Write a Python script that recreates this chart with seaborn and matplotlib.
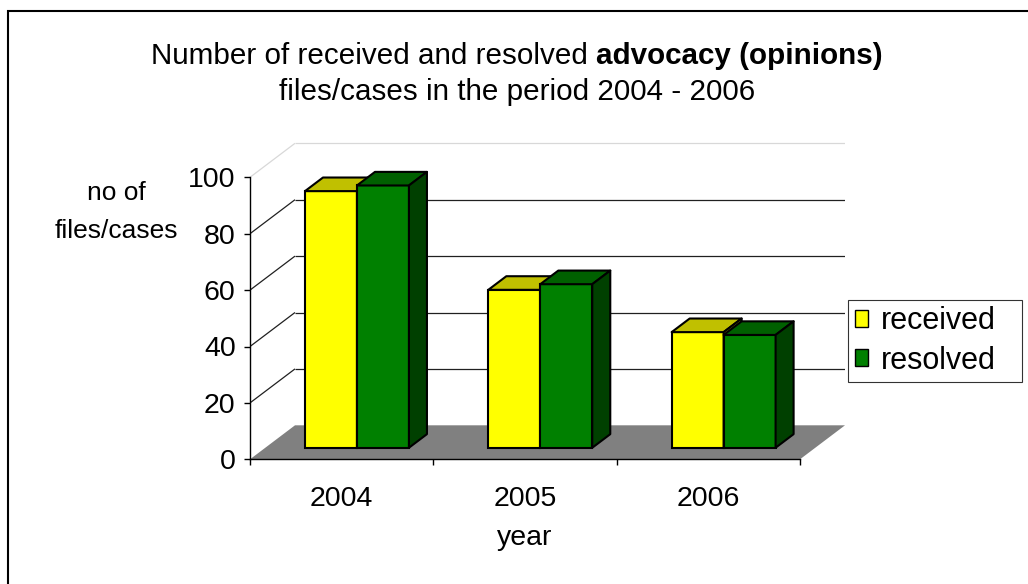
import numpy as np
import pandas as pd
import matplotlib
matplotlib.use("Agg")
import matplotlib.pyplot as plt
import seaborn as sns
from matplotlib.patches import Polygon, Rectangle, Patch

# ---------------- data ----------------
years = ["2004", "2005", "2006"]
received = [91, 56, 41]
resolved = [93, 58, 40]
series = ["received", "resolved"]
yticks = [0, 20, 40, 60, 80, 100]

df = pd.DataFrame({
    "year": years * 2,
    "value": received + resolved,
    "series": [series[0]] * len(years) + [series[1]] * len(years),
})

# ---------------- style ----------------
sns.set_theme(style="white")
plt.rcParams["font.family"] = ["Liberation Sans", "DejaVu Sans"]

FS_TICK = 20.5
FS_TITLE = 21.3
FS_LAB = 19
FS_LEG = 22
front_colors = {"received": "#FFFF00", "resolved": "#008000"}
top_colors = {"received": "#C0C000", "resolved": "#006000"}
side_colors = {"received": "#808000", "resolved": "#004000"}

W, H = 1028, 584
fig = plt.figure(figsize=(W / 100, H / 100), dpi=100)
fig.patch.set_facecolor("white")


def fx(px):
    return px / W


def fy(py):
    return (H - py) / H


AX_L, AX_R, AX_T, AX_B = 250, 845, 142, 459.3
ax = fig.add_axes([fx(AX_L), fy(AX_B), fx(AX_R) - fx(AX_L), fy(AX_T) - fy(AX_B)])

PX_PER_CAT = 550 / 3
PX_PER_VAL = 2.82
XMIN = -0.5
XMAX = XMIN + (AX_R - AX_L) / PX_PER_CAT
YMAX = (AX_B - AX_T) / PX_PER_VAL
DX = 45 / PX_PER_CAT
DY = 34 / PX_PER_VAL
F0, F1 = 0.34, 0.74

sns.barplot(data=df, x="year", y="value", hue="series", order=years,
            hue_order=series, palette=front_colors, width=0.567, gap=0,
            edgecolor="black", linewidth=1.5, saturation=1, errorbar=None,
            legend=False, ax=ax)

ax.set_xlim(XMIN, XMAX)
ax.set_ylim(0, YMAX)
ax.set_facecolor("white")

n = len(years)
floor = Polygon([(XMIN, 0), (XMIN + n, 0), (XMIN + n + DX, DY), (XMIN + DX, DY)],
                closed=True, facecolor="#808080", edgecolor="none", zorder=1)
ax.add_patch(floor)

for v in yticks[1:]:
    col = "#D8D8D8" if v == yticks[-1] else "#202020"
    ax.plot([XMIN, XMIN + DX], [v, v + DY], color=col, lw=0.9, zorder=1.5,
            solid_capstyle="butt")
    ax.plot([XMIN + DX, XMIN + n + DX], [v + DY, v + DY], color=col, lw=0.9,
            zorder=1.5, solid_capstyle="butt")

inv = {matplotlib.colors.to_hex(c).lower(): s for s, c in front_colors.items()}
bars = sorted([p for p in ax.patches if p is not floor], key=lambda p: p.get_x())
ddx = (F1 - F0) * DX
ddy = (F1 - F0) * DY
for i, p in enumerate(bars):
    s = inv[matplotlib.colors.to_hex(p.get_facecolor()).lower()]
    x0 = p.get_x() + F0 * DX
    y0 = F0 * DY
    w = p.get_width()
    h = p.get_height()
    p.set_x(x0)
    p.set_y(y0)
    z = 3 + i * 0.01
    p.set_zorder(z)
    p.set_clip_on(False)
    top = Polygon([(x0, y0 + h), (x0 + w, y0 + h), (x0 + w + ddx, y0 + h + ddy),
                   (x0 + ddx, y0 + h + ddy)], closed=True, facecolor=top_colors[s],
                  edgecolor="black", linewidth=1.5, joinstyle="round", zorder=z,
                  clip_on=False)
    side = Polygon([(x0 + w, y0), (x0 + w + ddx, y0 + ddy), (x0 + w + ddx, y0 + h + ddy),
                    (x0 + w, y0 + h)], closed=True, facecolor=side_colors[s],
                   edgecolor="black", linewidth=1.5, joinstyle="round", zorder=z,
                   clip_on=False)
    ax.add_patch(top)
    ax.add_patch(side)

for sp in ["top", "right"]:
    ax.spines[sp].set_visible(False)
ax.spines["left"].set_bounds(0, yticks[-1])
ax.spines["bottom"].set_bounds(XMIN, XMIN + n)
for sp in ["left", "bottom"]:
    ax.spines[sp].set_color("black")
    ax.spines[sp].set_linewidth(1.0)
    ax.spines[sp].set_zorder(5)

ax.set_yticks(yticks)
ax.set_yticklabels([str(v) for v in yticks])
ax.set_xticks(range(n))
ax.set_xticklabels(years)
ax.set_xticks([XMIN + k for k in range(n + 1)], minor=True)
ax.tick_params(axis="y", which="major", left=True, direction="out", length=4.3,
               width=1, color="black", pad=6, labelsize=FS_TICK, labelcolor="black")
ax.tick_params(axis="x", which="major", bottom=False, length=0, pad=19,
               labelsize=FS_TICK, labelcolor="black")
ax.tick_params(axis="x", which="minor", bottom=True, direction="out", length=4.3,
               width=1, color="black")
ax.set_xlabel("")
ax.set_ylabel("")
ax.grid(False)

fig.text(fx(525), fy(538), "year", ha="center", va="center", fontsize=FS_TICK,
         color="black")
fig.text(fx(116), fy(212), "no of\nfiles/cases", ha="center", va="center",
         fontsize=FS_LAB, color="black", linespacing=1.7)

# title with bold part
fig.canvas.draw()
r = fig.canvas.get_renderer()
part1 = "Number of received and resolved"
part2 = "advocacy (opinions)"
t1 = fig.text(0, fy(64), part1, fontsize=FS_TITLE, ha="left", va="baseline", color="black")
t2 = fig.text(0, fy(64), part2, fontsize=FS_TITLE, fontweight="bold", ha="left",
              va="baseline", color="black")
ta = fig.text(0, 0, "a a", fontsize=FS_TITLE)
tb = fig.text(0, 0, "aa", fontsize=FS_TITLE)
w1 = t1.get_window_extent(r).width
w2 = t2.get_window_extent(r).width
sp_w = ta.get_window_extent(r).width - tb.get_window_extent(r).width
ta.remove()
tb.remove()
total = w1 + sp_w + w2
cx = 517
start = cx - total / 2
t1.set_x(fx(start))
t2.set_x(fx(start + w1 + sp_w))
fig.text(fx(cx), fy(100), "files/cases in the period 2004 - 2006", fontsize=FS_TITLE,
         ha="center", va="baseline", color="black")

# legend
handles = [Patch(facecolor=front_colors[s], edgecolor="black", linewidth=1.0, label=s)
           for s in series]
leg = fig.legend(handles=handles, loc="center left",
                 bbox_to_anchor=(fx(848), fy(382), fx(1022) - fx(848), fy(300) - fy(382)),
                 mode="expand", frameon=True, fontsize=FS_LEG, handlelength=0.45,
                 handleheight=0.45, handletextpad=0.4, borderpad=0.22, labelspacing=0.3,
                 fancybox=False, edgecolor="black", borderaxespad=0)
leg.get_frame().set_linewidth(0.8)
for t in leg.get_texts():
    t.set_color("black")

fig.add_artist(Rectangle((fx(8), -0.1), 1.2, fy(11) + 0.1, transform=fig.transFigure,
                         fill=False, edgecolor="black", linewidth=1.5))

fig.savefig("out.png", dpi=100, facecolor="white")
